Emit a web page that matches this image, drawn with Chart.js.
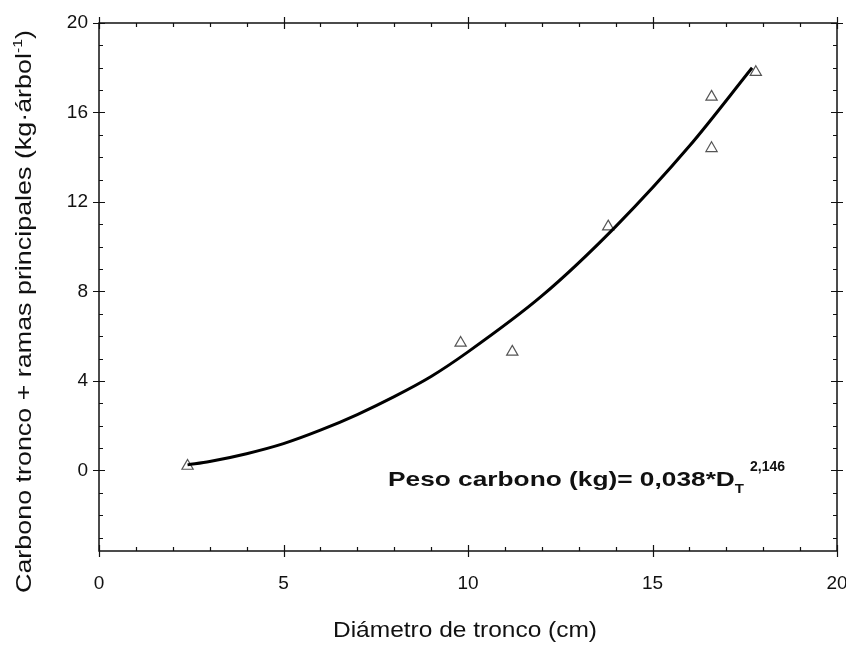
<!DOCTYPE html>
<html>
<head>
<meta charset="utf-8">
<script src="https://cdn.jsdelivr.net/npm/chart.js@4.4.1/dist/chart.umd.min.js"></script>
<style>
    html, body { margin: 0; padding: 0; background: #fff; }
    #wrap { width: 846px; height: 645px; }
</style>
</head>
<body>
<div id="wrap"><canvas id="carbonChart"></canvas></div>
<script>
// measured trees
const diameters = [2.4, 9.8, 11.2, 13.8, 16.6, 16.6, 17.8];
const carbon = [0.2, 5.7, 5.3, 10.9, 16.7, 14.4, 17.8];

// fitted curve
const fitDiameters = [2.4, 3, 4, 5, 6, 7, 8, 9, 10, 12, 14, 16, 17.7];
const fitCarbon = [0.25, 0.4, 0.75, 1.2, 1.8, 2.5, 3.3, 4.2, 5.3, 7.8, 10.9, 14.5, 18.0];

const xTicks = [0, 5, 10, 15, 20];
const yTicks = [0, 4, 8, 12, 16, 20];
const xMinor = [1, 2, 3, 4, 6, 7, 8, 9, 11, 12, 13, 14, 16, 17, 18, 19];
const yMinor = [-3, -2, -1, 1, 2, 3, 5, 6, 7, 9, 10, 11, 13, 14, 15, 17, 18, 19];

const xTitle = 'Diámetro de tronco (cm)';
const yTitle = 'Carbono tronco + ramas principales (kg·árbol';
const yTitleSup = '-1';
const eqMain = 'Peso carbono (kg)= 0,038*D';
const eqSub = 'T';
const eqSup = '2,146';

const FONT = '"Liberation Sans", Arial, sans-serif';
const INK = '#111';

// ========================
// Frame with ticks on all four sides
// ========================
const framePlugin = {
    id: 'frame',
    afterDatasetsDraw(chart) {
        const { ctx, chartArea: a, scales: { x, y } } = chart;
        ctx.save();
        ctx.strokeStyle = INK;
        ctx.lineWidth = 1.5;
        ctx.strokeRect(a.left, a.top, a.right - a.left, a.bottom - a.top);
        ctx.lineWidth = 1.2;
        ctx.beginPath();
        xTicks.forEach(v => {
            const px = Math.round(x.getPixelForValue(v)) + 0.5;
            ctx.moveTo(px, a.bottom - 6); ctx.lineTo(px, a.bottom + 6);
            ctx.moveTo(px, a.top - 6); ctx.lineTo(px, a.top + 6);
        });
        xMinor.forEach(v => {
            const px = Math.round(x.getPixelForValue(v)) + 0.5;
            ctx.moveTo(px, a.bottom); ctx.lineTo(px, a.bottom - 4);
            ctx.moveTo(px, a.top); ctx.lineTo(px, a.top + 4);
        });
        yTicks.forEach(v => {
            const py = Math.round(y.getPixelForValue(v)) + 0.5;
            ctx.moveTo(a.left - 6, py); ctx.lineTo(a.left + 6, py);
            ctx.moveTo(a.right - 6, py); ctx.lineTo(a.right + 6, py);
        });
        yMinor.forEach(v => {
            const py = Math.round(y.getPixelForValue(v)) + 0.5;
            ctx.moveTo(a.left, py); ctx.lineTo(a.left + 4, py);
            ctx.moveTo(a.right, py); ctx.lineTo(a.right - 4, py);
        });
        ctx.stroke();
        ctx.restore();
    }
};

// draw text stretched to a target width along its direction
function fittedText(ctx, parts, x, y, angle, target) {
    ctx.save();
    let natural = 0;
    parts.forEach(p => { ctx.font = p.font; natural += ctx.measureText(p.text).width; });
    ctx.translate(x, y);
    ctx.rotate(angle);
    ctx.scale(target / natural, 1);
    ctx.fillStyle = INK;
    ctx.textBaseline = 'alphabetic';
    ctx.textAlign = 'left';
    let cx = 0;
    parts.forEach(p => {
        ctx.font = p.font;
        ctx.fillText(p.text, cx, p.dy || 0);
        cx += ctx.measureText(p.text).width;
    });
    ctx.restore();
}

// ========================
// Axis titles and the equation
// ========================
const labelsPlugin = {
    id: 'labels',
    afterDraw(chart) {
        const { ctx } = chart;
        fittedText(ctx, [{ text: xTitle, font: `22px ${FONT}` }], 333, 637, 0, 264);
        fittedText(ctx, [
            { text: yTitle, font: `22px ${FONT}` },
            { text: yTitleSup, font: `13px ${FONT}`, dy: -9 },
            { text: ')', font: `22px ${FONT}` }
        ], 31, 593, -Math.PI / 2, 563);
        fittedText(ctx, [
            { text: eqMain, font: `bold 21px ${FONT}` },
            { text: eqSub, font: `bold 12px ${FONT}`, dy: 7 }
        ], 388, 486, 0, 356);
        ctx.save();
        ctx.fillStyle = INK;
        ctx.font = `bold 14px ${FONT}`;
        ctx.fillText(eqSup, 750, 471);
        ctx.restore();
    }
};

const ctx = document.getElementById('carbonChart').getContext('2d');
new Chart(ctx, {
    type: 'scatter',
    data: {
        datasets: [
            {
                label: 'Ajuste',
                data: fitDiameters.map((d, i) => ({ x: d, y: fitCarbon[i] })),
                showLine: true,
                borderColor: '#000',
                borderWidth: 3,
                pointRadius: 0,
                cubicInterpolationMode: 'monotone'
            },
            {
                label: 'Observado',
                data: diameters.map((d, i) => ({ x: d, y: carbon[i] })),
                pointStyle: 'triangle',
                pointRadius: 6.5,
                pointBorderColor: '#555',
                pointBorderWidth: 1.2,
                pointBackgroundColor: 'rgba(255,255,255,0)'
            }
        ]
    },
    options: {
        responsive: true,
        maintainAspectRatio: false,
        animation: false,
        layout: { padding: { top: 23, right: 9, left: 0, bottom: 0 } },
        plugins: { legend: { display: false }, tooltip: { enabled: false } },
        scales: {
            x: {
                type: 'linear', min: 0, max: 20,
                afterBuildTicks: s => { s.ticks = xTicks.map(v => ({ value: v })); },
                afterFit: s => { s.height = 94; s.paddingLeft = 0; s.paddingRight = 0; },
                grid: { display: false, drawTicks: false },
                border: { display: false },
                ticks: { color: INK, padding: 21, font: { family: FONT, size: 19 } }
            },
            y: {
                type: 'linear', min: -3.6, max: 20,
                afterBuildTicks: s => { s.ticks = yTicks.map(v => ({ value: v })); },
                afterFit: s => { s.width = 99; s.paddingTop = 0; s.paddingBottom = 0; },
                grid: { display: false, drawTicks: false },
                border: { display: false },
                ticks: { color: INK, padding: 11, font: { family: FONT, size: 19 } }
            }
        }
    },
    plugins: [framePlugin, labelsPlugin]
});
</script>
</body>
</html>
